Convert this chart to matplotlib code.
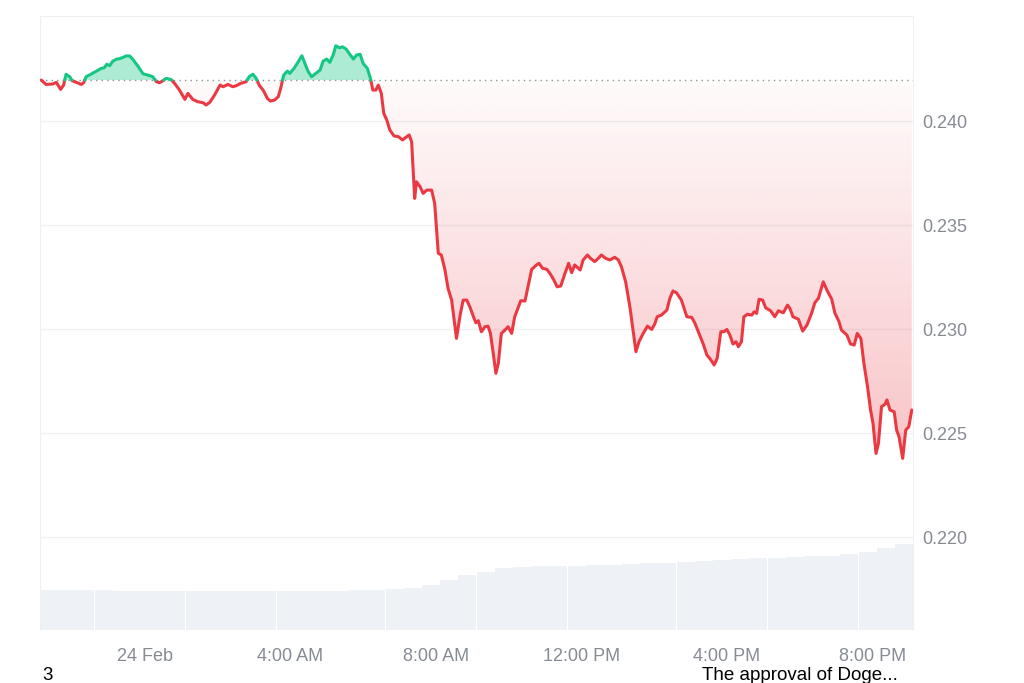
import numpy as np
import matplotlib.pyplot as plt
from matplotlib.path import Path
from matplotlib.patches import PathPatch

plt.rcParams['font.family'] = ['Liberation Sans', 'DejaVu Sans']

# price, minutes from 24 Feb 00:00
t_min = [-171, -163, -152, -146, -139, -134, -130, -124, -120, -113,
         -105, -101, -97, -89, -80, -72, -67, -63, -58, -53,
         -47, -42, -36, -31, -25, -20, -12, -3, 5, 13,
         19, 24, 30, 35, 43, 49, 57, 66, 71, 79,
         87, 96, 101, 107, 115,
         124, 129, 137, 145, 151, 158, 167, 172, 178, 183,
         189, 195, 202, 207, 214, 220, 224, 229, 235, 239,
         246, 253, 259, 264, 269, 275, 282, 289, 294, 300,
         305, 311, 315, 321, 326, 332, 338, 344, 349, 355,
         360, 367, 372,
         376, 381, 385, 390, 394, 399, 404, 411, 418, 425,
         432, 436, 440, 443, 445, 448, 454, 459, 465, 473,
         478, 484, 489, 495, 500, 506, 514, 520, 525, 531,
         536, 542, 546, 550, 555, 561, 566, 570, 575, 579,
         583, 588, 594, 599, 605, 610, 620,
         627, 632, 638, 646, 650, 656, 663, 668, 674, 680,
         686, 693, 699, 704, 709, 718, 723, 730, 735, 742,
         748, 753, 760, 767, 775, 781, 786, 793, 800, 806,
         810, 815, 822,
         829, 836, 841, 845, 852, 858, 861, 866, 871, 877,
         885, 894, 902, 907, 914, 921, 927, 933, 939, 944,
         950, 955, 960, 965, 970, 975, 979, 984, 988, 994,
         1001, 1005, 1009, 1013, 1019, 1024, 1032, 1039, 1045, 1053,
         1060,
         1064, 1069, 1078, 1085, 1092, 1100, 1105, 1111, 1119, 1125,
         1133, 1138, 1145, 1149, 1158, 1164, 1170, 1175, 1181, 1186,
         1192, 1197, 1201, 1206, 1210, 1215, 1221, 1224, 1229, 1236,
         1240, 1244, 1250, 1255, 1260, 1265]
price = [0.24197, 0.24176, 0.24178, 0.24186, 0.24152, 0.24173, 0.24225, 0.24213, 0.24194, 0.24186,
         0.24176, 0.24184, 0.24213, 0.24225, 0.24240, 0.24253, 0.24256, 0.24273, 0.24266, 0.24288,
         0.24297, 0.24300, 0.24306, 0.24313, 0.24313, 0.24297, 0.24266, 0.24227, 0.24221, 0.24213,
         0.24189, 0.24184, 0.24194, 0.24205, 0.24200, 0.24181, 0.24149, 0.24104, 0.24133, 0.24104,
         0.24093, 0.24088, 0.24077, 0.24090, 0.24125,
         0.24173, 0.24165, 0.24176, 0.24165, 0.24170, 0.24181, 0.24189, 0.24213, 0.24225, 0.24208,
         0.24170, 0.24149, 0.24109, 0.24096, 0.24101, 0.24117, 0.24157, 0.24221, 0.24240, 0.24229,
         0.24253, 0.24285, 0.24314, 0.24277, 0.24240, 0.24213, 0.24229, 0.24245, 0.24288, 0.24298,
         0.24282, 0.24321, 0.24362, 0.24352, 0.24357, 0.24346, 0.24321, 0.24298, 0.24317, 0.24321,
         0.24277, 0.24253, 0.24205,
         0.24149, 0.24149, 0.24173, 0.24133, 0.24037, 0.24005, 0.23957, 0.23928, 0.23925, 0.23909,
         0.23925, 0.23933, 0.23900, 0.23732, 0.23628, 0.23708, 0.23684, 0.23652, 0.23668, 0.23668,
         0.23604, 0.23364, 0.23356, 0.23284, 0.23196, 0.23139, 0.22955, 0.23067, 0.23139, 0.23139,
         0.23107, 0.23059, 0.23030, 0.23040, 0.22987, 0.23011, 0.23014, 0.22979, 0.22875, 0.22787,
         0.22835, 0.22979, 0.22995, 0.23011, 0.22979, 0.23059, 0.23136,
         0.23135, 0.23203, 0.23287, 0.23308, 0.23316, 0.23292, 0.23287, 0.23268, 0.23239, 0.23203,
         0.23207, 0.23268, 0.23316, 0.23271, 0.23308, 0.23284, 0.23332, 0.23356, 0.23340, 0.23324,
         0.23340, 0.23356, 0.23340, 0.23332, 0.23345, 0.23332, 0.23300, 0.23227, 0.23107, 0.22979,
         0.22891, 0.22939, 0.22979,
         0.23014, 0.22998, 0.23024, 0.23059, 0.23067, 0.23083, 0.23091, 0.23148, 0.23183, 0.23174,
         0.23139, 0.23059, 0.23056, 0.23030, 0.22979, 0.22928, 0.22875, 0.22854, 0.22827, 0.22859,
         0.22987, 0.22987, 0.22998, 0.22971, 0.22928, 0.22939, 0.22915, 0.22939, 0.23059, 0.23071,
         0.23067, 0.23083, 0.23075, 0.23143, 0.23139, 0.23102, 0.23088, 0.23059, 0.23088, 0.23078,
         0.23115,
         0.23099, 0.23059, 0.23047, 0.22990, 0.23019, 0.23078, 0.23126, 0.23148, 0.23227, 0.23187,
         0.23143, 0.23078, 0.23035, 0.22995, 0.22971, 0.22928, 0.22923, 0.22979, 0.22955, 0.22835,
         0.22723, 0.22611, 0.22547, 0.22402, 0.22450, 0.22626, 0.22639, 0.22659, 0.22611, 0.22602,
         0.22514, 0.22482, 0.22378, 0.22514, 0.22530, 0.22611]
open_price = 0.24197

# volume bars, one per 30 minutes
vol_start = -173
volume = [1.30, 1.30, 1.30, 1.30, 1.27, 1.27, 1.27, 1.27, 1.27, 1.27,
          1.27, 1.27, 1.27, 1.27, 1.28, 1.28, 1.28, 1.29, 1.30, 1.32,
          1.38, 1.48, 1.62, 1.80, 1.90, 2.02, 2.06, 2.07, 2.08, 2.09,
          2.11, 2.13, 2.15, 2.17, 2.19, 2.21, 2.24, 2.27, 2.30, 2.33,
          2.36, 2.38, 2.40, 2.42, 2.46, 2.54, 2.68, 2.80]

x_ticks = [0, 240, 480, 720, 960, 1200]
x_labels = ['24 Feb', '4:00 AM', '8:00 AM', '12:00 PM', '4:00 PM', '8:00 PM']
y_ticks = [0.220, 0.225, 0.230, 0.235, 0.240]

RED = '#ea3943'
GREEN = '#16c784'
GREY = '#868b94'
xlim = (vol_start, vol_start + 1440)

fig = plt.figure(figsize=(10.24, 6.83), dpi=100)
rect = [40 / 1024, 1 - 630 / 683, 873 / 1024, 614 / 683]

# volume in the back
ax_v = fig.add_axes(rect)
vol_x = vol_start + 15 + 30 * np.arange(len(volume))
ax_v.bar(vol_x, volume, width=29.6, color='#eef1f5', linewidth=0)
ax_v.set_xlim(*xlim)
ax_v.set_ylim(0, 20)
ax_v.axis('off')

ax = fig.add_axes(rect)
ax.patch.set_alpha(0)

# put a point on the open line wherever the price crosses it
t = np.array(t_min, dtype=float)
p = np.array(price)
tt, pp = [t[0]], [p[0]]
for i in range(1, len(t)):
    a, b = p[i - 1] - open_price, p[i] - open_price
    if a * b < 0:
        tt.append(t[i - 1] + (t[i] - t[i - 1]) * a / (a - b))
        pp.append(open_price)
    tt.append(t[i])
    pp.append(p[i])
tt = np.array(tt)
pp = np.array(pp)

ax.fill_between(tt, pp, open_price, where=pp >= open_price, color=GREEN,
                alpha=0.35, linewidth=0, interpolate=True)

# red area with a fading gradient
red_area = ax.fill_between(tt, pp, open_price, where=pp <= open_price,
                           facecolor='none', linewidth=0, interpolate=True)
clip = PathPatch(Path.make_compound_path(*red_area.get_paths()),
                 transform=ax.transData, facecolor='none', edgecolor='none')
ax.add_patch(clip)
grad = np.zeros((256, 1, 4))
grad[..., :3] = (234 / 255, 57 / 255, 67 / 255)
grad[..., 3] = np.linspace(0.02, 0.30, 256)[:, None]
im = ax.imshow(grad, extent=[xlim[0], xlim[1], min(price), open_price],
               origin='upper', aspect='auto', zorder=1)
im.set_clip_path(clip)

up = np.where(pp >= open_price, pp, np.nan)
down = np.where(pp <= open_price, pp, np.nan)
ax.plot(tt, down, color=RED, lw=2.2, solid_joinstyle='round',
        solid_capstyle='round', zorder=3)
ax.plot(tt, up, color=GREEN, lw=2.2, solid_joinstyle='round',
        solid_capstyle='round', zorder=3)
ax.axhline(open_price, color='#8f949c', lw=1, ls=(0, (1, 3)), zorder=2)

ax.set_xlim(*xlim)
ax.set_ylim(0.21553, 0.24505)
ax.set_xticks(x_ticks)
ax.set_xticklabels(x_labels)
ax.set_yticks(y_ticks)
ax.set_yticklabels([f'{v:.3f}' for v in y_ticks])
ax.yaxis.tick_right()
ax.tick_params(axis='x', length=0, pad=13, labelsize=13, labelcolor=GREY)
ax.tick_params(axis='y', length=0, pad=7, labelsize=13, labelcolor=GREY)
ax.grid(axis='y', color='#eef0f3', lw=1)
ax.set_axisbelow(True)
for side in ['left', 'top', 'right']:
    ax.spines[side].set_color('#eef0f3')
ax.spines['bottom'].set_visible(False)

fig.text(42 / 1024, 1 - 675 / 683, '3', fontsize=13.5, va='center', color='black')
fig.text(702 / 1024, 1 - 675 / 683, 'The approval of Doge...', fontsize=13.5,
         va='center', color='black')

fig.savefig('out.png', dpi=100)
